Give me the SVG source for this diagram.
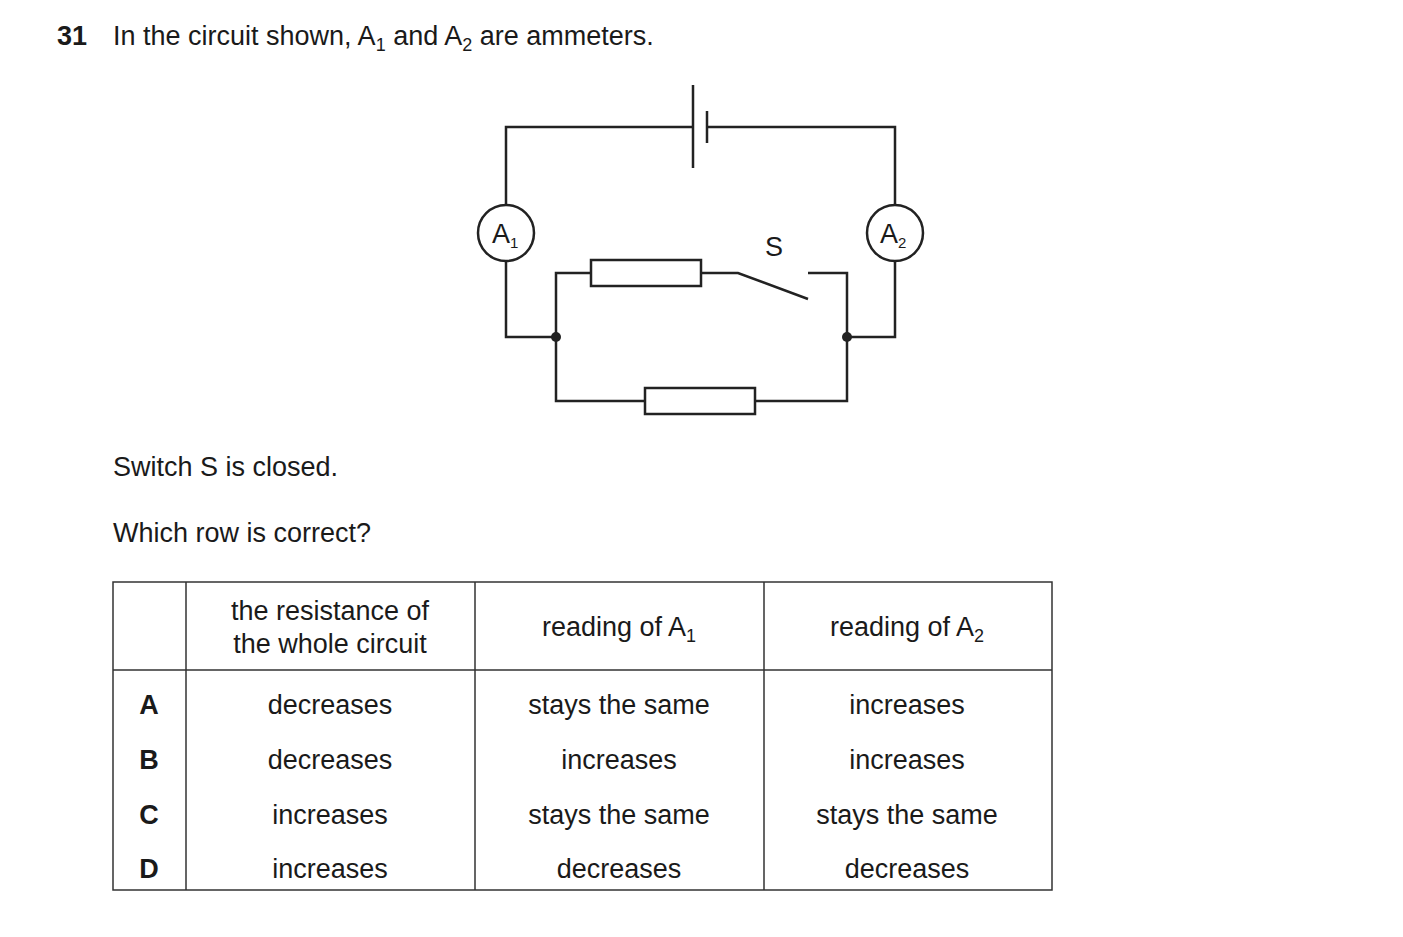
<svg xmlns="http://www.w3.org/2000/svg" width="1403" height="937" viewBox="0 0 1403 937">
<style>
text{font-family:"Liberation Sans",Arial,sans-serif;font-size:27px;fill:#1a1a1a}
.w{stroke:#222;stroke-width:2.5;fill:none}
.r{stroke:#222;stroke-width:2.5;fill:#fff}
.c{text-anchor:middle}
.t{stroke:#333;stroke-width:1.5;fill:none}
</style>
<rect width="1403" height="937" fill="#fff"/>
<text x="57" y="45" font-weight="bold">31</text>
<text x="113" y="45">In the circuit shown, A<tspan font-size="18" dy="6">1</tspan><tspan dy="-6"> and A</tspan><tspan font-size="18" dy="6">2</tspan><tspan dy="-6"> are ammeters.</tspan></text>
<g id="connectors">
<path class="w" d="M693,127 H506 V337 H556 M707,127 H895 V337 H847 M556,337 V273 H591 M701,273 H738 L808,299 M808,273 H847 V337 M556,337 V401 H645 M755,401 H847 V337"/>
</g>
<g id="battery"><path class="w" d="M693,85 V168 M707,111 V143"/></g>
<g id="A1"><circle class="r" cx="506" cy="233" r="28"/><text x="492" y="243" font-size="24">A<tspan font-size="15" dy="5">1</tspan></text></g>
<g id="A2"><circle class="r" cx="895" cy="233" r="28"/><text x="880" y="243" font-size="24">A<tspan font-size="15" dy="5">2</tspan></text></g>
<g id="R1"><rect class="r" x="591" y="260" width="110" height="26"/></g>
<g id="R2"><rect class="r" x="645" y="388" width="110" height="26"/></g>
<g id="S"><text x="774" y="256" class="c" font-size="24">S</text></g>
<g id="junctions"><circle cx="556" cy="337" r="5" fill="#222"/><circle cx="847" cy="337" r="5" fill="#222"/></g>
<text x="113" y="476">Switch S is closed.</text>
<text x="113" y="542">Which row is correct?</text>
<g id="table">
<path class="t" d="M113,582 H1052 V890 H113 Z M113,670 H1052 M186,582 V890 M475,582 V890 M764,582 V890"/>
<text x="330" y="620" class="c">the resistance of</text>
<text x="330" y="653" class="c">the whole circuit</text>
<text x="619" y="636" class="c">reading of A<tspan font-size="18" dy="6">1</tspan></text>
<text x="907" y="636" class="c">reading of A<tspan font-size="18" dy="6">2</tspan></text>
<g font-weight="bold"><text x="149" y="714" class="c" font-weight="bold">A</text><text x="149" y="769" class="c" font-weight="bold">B</text><text x="149" y="824" class="c" font-weight="bold">C</text><text x="149" y="878" class="c" font-weight="bold">D</text></g>
<text x="330" y="714" class="c">decreases</text><text x="619" y="714" class="c">stays the same</text><text x="907" y="714" class="c">increases</text>
<text x="330" y="769" class="c">decreases</text><text x="619" y="769" class="c">increases</text><text x="907" y="769" class="c">increases</text>
<text x="330" y="824" class="c">increases</text><text x="619" y="824" class="c">stays the same</text><text x="907" y="824" class="c">stays the same</text>
<text x="330" y="878" class="c">increases</text><text x="619" y="878" class="c">decreases</text><text x="907" y="878" class="c">decreases</text>
</g>
</svg>
